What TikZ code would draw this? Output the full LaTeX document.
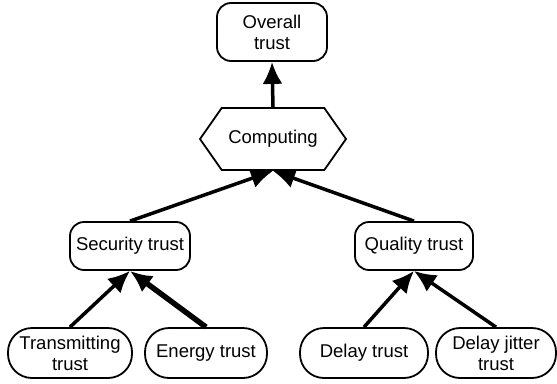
\documentclass[tikz,border=0pt]{standalone}
\usepackage{fontspec}
\setmainfont{Liberation Sans}
\usetikzlibrary{shapes,arrows.meta,positioning,calc}

\begin{document}
\begin{tikzpicture}[x=1pt,y=-1pt]
  \tikzstyle{box}=[rectangle, draw, line width=1.8pt, rounded corners=14pt, align=center, font=\fontsize{18.5}{21}\selectfont, inner sep=0pt]
  \tikzstyle{leaf}=[box, rounded corners=24pt, minimum height=50pt]
  \tikzstyle{link}=[line width=3.5pt, -{Latex[length=22pt,width=20pt]}]
  \useasboundingbox (0,0) rectangle (557,383);

  \node[box, minimum width=110pt, minimum height=58pt] (overall) at (272,32) {Overall\\trust};
  \node[signal, signal to=west and east, signal pointer angle=110, draw, line width=1.8pt, minimum width=146pt, minimum height=62pt, inner sep=0pt, font=\fontsize{18.5}{21}\selectfont] (comp) at (273,139) {Computing};
  \node[box, minimum width=120pt, minimum height=48pt] (sec) at (130,246) {Security trust};
  \node[box, minimum width=118pt, minimum height=48pt] (qual) at (414,246) {Quality trust};
  \node[leaf, minimum width=124pt] (trans) at (70,353) {Transmitting\\trust};
  \node[leaf, minimum width=122pt] (energy) at (206,353) {Energy trust};
  \node[leaf, minimum width=128pt] (delay) at (364,353) {Delay trust};
  \node[leaf, minimum width=120pt] (jitter) at (496,353) {Delay jitter\\trust};

  \draw[link] (comp.north) -- (overall.south);
  \draw[link] (sec.north) -- (comp.south);
  \draw[link] (qual.north) -- (comp.south);
  \draw[link] (trans.north) -- (sec.south);
  \draw[link, line width=5.5pt] (energy.north) -- (sec.south);
  \draw[link] (delay.north) -- (qual.south);
  \draw[link] (jitter.north) -- (qual.south);
\end{tikzpicture}
\end{document}
